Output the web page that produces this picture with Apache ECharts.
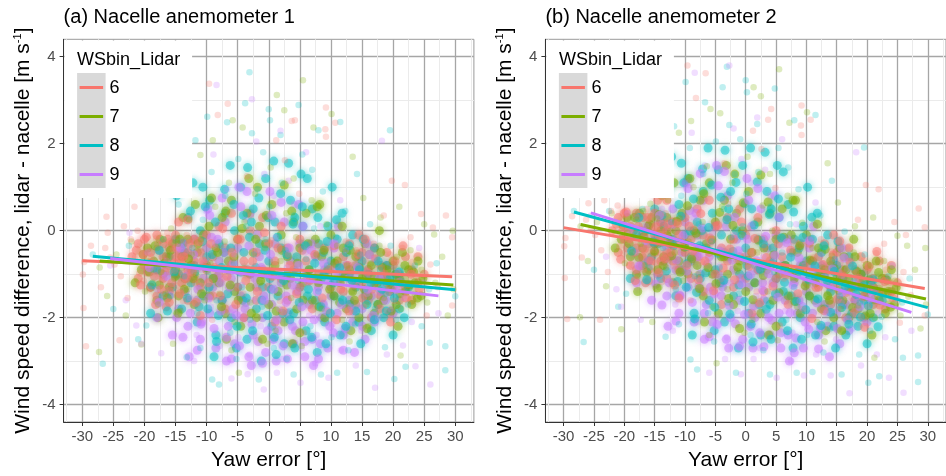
<!DOCTYPE html>
<html>
<head>
<meta charset="utf-8">
<script src="https://cdn.jsdelivr.net/npm/echarts@6.0.0/dist/echarts.min.js"></script>
<style>
html, body { margin: 0; padding: 0; background: #fff; }
#chart { width: 946px; height: 476px; }
</style>
</head>
<body>
<div id="chart"></div>
<script>
// lidar wind speed bins and their colours
const bins = ['6', '7', '8', '9'];
const binColors = ['#F8766D', '#7CAE00', '#00BFC4', '#C77CFF'];

const xTicks = [-30, -25, -20, -15, -10, -5, 0, 5, 10, 15, 20, 25, 30];
const yTicks = [-4, -2, 0, 2, 4];

// yaw error [deg] per bin, with wind speed difference for anemometer 1 (A) and 2 (B)
// spread-out samples
const yaw6 = [-19.8,-18.6,-17.9,-17.2,-16.5,-16.0,-15.4,-14.8,-14.2,-13.5,
  -12.9,-12.1,-11.4,-20.8,-21.5,-19.2,-18.1,-17.6,-16.8,-15.9,
  -15.1,-14.5,-13.8,-13.2,-12.6,-11.8,-16.3,-18.9,-20.1,-14.0,
  -29.7,-29.9,-29.8,-29.4,-28.6,-26.1,-25.9,-26.3,-25.5,-24.0,
  -23.3,-22.2,-21.6,-21.1,-27.0,-23.8,-22.7,-24.8,-9.6,-8.2,
  -6.6,1.2,3.7,4.2,9.2,9.1,9.2,10.7,-8.5,-7.2,
  -5.8,-4.1,-2.9,-1.5,0.4,1.8,3.1,4.9,6.3,7.8,
  9.5,11.2,-9.1,5.6,-3.5,2.6,13.2,14.1,14.9,15.6,
  16.3,16.9,17.5,18.2,18.8,19.5,20.1,20.8,21.5,22.3,
  23.1,23.9,17.0,19.0,21.9,19.8,24.5,26.4,29.5,26.0,
  29.5,28.5,27.2,25.4,15.3,12.4,18.5,22.8];
const diffA6 = [-0.52,-0.85,-0.31,-1.12,-0.68,-0.95,-0.42,-1.28,-0.74,-0.58,
  -1.02,-0.36,-0.88,-0.98,-0.62,-1.35,-0.18,-0.77,-1.48,-0.25,
  -0.92,-0.55,-1.62,-0.10,-0.82,-1.21,-0.05,-0.60,-1.15,-0.98,
  -0.72,-1.01,-1.78,-2.66,-0.35,0.32,-0.05,-0.40,-0.62,-2.52,
  0.10,-0.20,0.55,0.00,-1.30,-1.05,-1.55,-0.78,3.38,2.66,
  2.92,2.08,2.52,2.54,2.83,2.33,2.16,2.48,-0.40,-1.10,
  -0.65,-1.45,0.35,-0.90,-0.22,-1.62,-0.55,0.85,-1.20,-0.35,
  -1.85,-0.70,-2.05,-2.35,1.25,1.62,-0.95,-0.45,-1.30,-0.70,
  -1.05,-0.30,-1.48,-0.85,-1.15,-0.55,-1.62,-0.98,-0.40,-1.25,
  -0.72,-1.05,-0.62,-1.85,1.05,1.15,0.38,0.07,-0.15,-0.78,
  -1.72,0.35,-1.30,-1.95,-1.75,-0.25,0.35,-0.15];
const diffB6 = [0.02,-0.27,0.30,-0.61,-0.12,-0.48,0.02,-0.74,-0.30,-0.02,
  -0.60,0.14,-0.49,-0.36,-0.08,-0.80,0.34,-0.28,-0.90,0.27,
  -0.45,-0.01,-1.18,0.40,-0.33,-0.82,0.50,-0.02,-0.52,-0.52,
  -0.17,-0.36,-1.09,-2.03,0.33,0.95,0.63,0.25,0.02,-2.05,
  0.70,0.45,0.95,0.58,-0.62,-0.45,-0.95,-0.10,3.80,3.05,
  3.62,2.30,2.55,2.80,2.88,2.42,2.20,2.55,0.05,-0.72,
  -0.30,-1.12,0.62,-0.68,0.05,-1.40,-0.38,0.98,-1.10,-0.25,
  -1.80,-0.62,-1.60,-2.18,1.55,1.88,-0.90,-0.48,-1.33,-0.74,
  -1.12,-0.40,-1.55,-0.95,-1.28,-0.68,-1.75,-1.10,-0.52,-1.40,
  -0.90,-1.20,-0.70,-1.98,0.95,1.05,0.20,-0.10,0.08,-0.95,
  -1.95,0.51,-1.48,-2.12,-1.80,-0.20,0.25,-0.30];

const yaw7 = [5.5,1.3,2.5,10.1,-5.8,-4.2,7.2,-9.0,-11.0,13.5,
  29.6,-27.3,-20.5,-15.4,-4.8,21.2,26.6,-27.2,-26.0,-24.5,
  -23.0,-22.1,-19.5,-18.7,-18.0,-17.3,-16.6,-16.0,-15.2,-14.6,
  -13.9,-13.1,-12.4,-11.7,-10.9,-10.3,-17.8,-15.7,-14.2,-12.8,
  -19.9,-16.9,-9.4,-8.6,-7.9,-7.1,-6.4,-5.5,-4.7,-3.9,
  -3.0,-2.2,-1.4,-0.6,0.3,1.1,1.9,2.8,3.6,4.4,
  5.3,6.1,6.9,7.7,8.5,9.3,10.2,11.0,11.8,-0.2,
  4.0,-6.0,12.6,13.4,14.2,14.9,15.7,16.4,17.1,17.8,
  18.5,19.2,19.9,20.6,21.3,22.0,22.8,23.5,16.0,18.0,
  21.0,24.6,25.5,26.8,27.9,28.8,29.7,25.0,13.0,15.2];
const diffA7 = [3.46,3.12,2.77,2.68,2.54,2.37,2.37,2.08,1.74,1.70,
  0.00,-2.79,-2.62,-2.60,-3.27,-2.87,-0.09,-0.85,-1.50,-0.55,
  -1.95,-0.25,-0.70,-1.20,-0.40,-0.95,-1.45,-0.62,-1.10,-0.30,
  -0.85,-1.35,-0.55,-1.02,-0.20,-1.60,-1.70,0.05,-1.85,0.25,
  -1.40,-0.20,-0.75,0.55,-1.45,-0.25,1.10,-2.10,-0.90,0.20,
  -1.65,0.85,-1.20,-0.40,1.45,-2.30,-0.70,0.40,-1.55,-0.15,
  -2.65,-1.00,0.70,-0.55,-1.80,0.15,-1.25,-0.35,-2.05,-2.60,
  1.20,-2.75,-0.80,-1.40,-0.50,-1.05,-1.70,-0.75,-1.25,-0.35,
  -1.55,-0.95,-1.35,-0.60,-1.80,-1.10,-0.45,-1.45,-2.20,0.30,
  0.55,-0.90,-1.65,-1.20,-0.60,-1.95,-1.35,0.15,-2.55,0.75];
const diffB7 = [3.71,3.30,3.09,2.72,2.80,2.70,2.48,2.52,2.25,1.55,
  -0.40,-1.99,-2.27,-2.10,-3.05,-2.92,-0.35,0.10,-0.70,0.20,
  -1.28,0.40,-0.05,-0.50,0.25,-0.30,-0.80,0.00,-0.52,0.28,
  -0.30,-0.85,0.00,-0.50,0.28,-1.15,-1.05,0.62,-1.30,0.70,
  -0.75,0.45,-0.25,1.00,-1.00,0.20,1.48,-1.75,-0.52,0.55,
  -1.35,1.10,-0.92,-0.10,1.70,-2.05,-0.50,0.58,-1.40,0.00,
  -2.52,-0.90,0.80,-0.48,-1.75,0.18,-1.25,-0.40,-2.10,-2.35,
  1.30,-2.40,-0.85,-1.45,-0.58,-1.15,-1.80,-0.88,-1.40,-0.50,
  -1.72,-1.12,-1.55,-0.80,-2.00,-1.32,-0.70,-1.68,-2.30,0.10,
  0.30,-1.15,-1.95,-1.52,-0.90,-2.25,-1.70,-0.12,-2.55,0.65];

const yaw8 = [-3.1,4.8,-3.8,0.0,0.2,-9.9,-6.7,-2.7,8.0,11.5,
  19.5,-11.8,1.9,14.2,-26.7,-19.7,-13.2,-9.1,-8.0,-1.6,
  4.0,8.4,11.0,15.8,20.2,22.0,28.4,18.7,25.9,28.4,
  30.0,-28.3,-25.0,-22.5,-21.0,-18.5,-17.0,-15.8,-14.5,-13.6,
  -12.3,-11.5,-10.6,-9.8,-9.2,-8.4,-7.7,-7.0,-6.2,-5.6,
  -4.9,-4.3,-3.6,-3.0,-2.4,-1.8,-1.1,-0.5,0.1,0.8,
  1.4,2.1,2.7,3.4,4.1,4.7,5.4,6.0,6.7,7.3,
  8.0,8.7,9.4,10.1,10.8,11.6,12.3,13.1,13.9,14.7,
  15.5,16.3,17.1,17.9,18.8,19.6,20.5,21.4,22.4,23.5,
  24.6,25.8,27.0,-5.2,2.9,-11.0,12.8,-16.5,7.0,-0.9];
const diffA8 = [3.64,2.89,2.93,2.79,2.54,2.62,2.49,2.24,2.31,2.50,
  2.31,2.08,2.20,1.30,-3.06,-2.18,-2.91,-3.42,-3.54,-3.42,
  -3.31,-3.31,-3.27,-3.25,-3.41,-3.13,-3.21,-2.68,-2.58,-2.66,
  -1.51,-0.55,-1.80,-0.35,-2.50,-0.90,-0.20,-1.50,0.60,-1.05,
  -0.40,-1.90,0.25,-0.95,1.35,-1.60,-0.35,0.80,-2.35,-0.75,
  1.65,-1.30,0.10,-2.05,-0.55,0.95,-1.75,-0.20,0.55,-2.70,
  -1.05,1.10,-0.45,-1.85,0.35,-1.15,1.75,-0.65,-2.20,0.05,
  -1.40,0.90,-0.80,-2.45,-0.15,-1.55,0.45,-1.00,-2.15,-0.55,
  -1.35,0.15,-1.80,-0.90,-1.45,-0.35,-2.05,-1.15,-1.70,-0.80,
  -2.20,-1.35,-0.75,-2.95,-2.95,-2.70,-2.75,0.90,1.40,1.80];
const diffB8 = [3.77,3.27,3.30,3.46,3.18,3.42,2.95,2.43,2.54,2.66,
  1.91,2.40,2.45,1.15,-2.56,-1.45,-2.44,-2.96,-3.19,-3.27,
  -3.31,-3.27,-3.25,-3.31,-3.50,-3.35,-3.48,-2.85,-2.92,-2.87,
  -1.93,0.45,-0.90,0.45,-1.75,-0.15,0.50,-0.85,1.25,-0.40,
  0.20,-1.35,0.80,-0.40,1.90,-1.05,0.15,1.30,-1.90,-0.25,
  2.05,-0.85,0.50,-1.65,-0.15,1.30,-1.45,0.10,0.85,-2.40,
  -0.80,1.35,-0.20,-1.60,0.55,-0.95,1.90,-0.50,-2.05,0.15,
  -1.30,0.95,-0.78,-2.40,-0.18,-1.58,0.35,-1.05,-2.25,-0.65,
  -1.50,-0.02,-1.95,-1.10,-1.65,-0.55,-2.30,-1.38,-1.98,-1.05,
  -2.50,-1.65,-1.10,-2.55,-2.75,-2.15,-2.80,1.55,1.45,2.10];

const yaw9 = [-8.4,-2.7,18.2,-21.3,-17.3,-0.8,1.3,5.1,9.6,17.1,
  23.6,26.0,21.6,6.0,1.9,-6.0,14.0,-25.5,-23.0,-19.5,
  27.3,25.0,-18.0,-16.4,-15.0,-13.8,-12.7,-11.6,-10.8,-10.0,
  -9.3,-8.6,-7.9,-7.3,-6.7,-6.1,-5.5,-4.9,-4.3,-3.7,
  -3.1,-2.5,-1.9,-1.3,-0.7,-0.1,0.5,1.1,1.7,2.3,
  2.9,3.5,4.1,4.7,5.3,5.9,6.5,7.1,7.7,8.3,
  8.9,9.5,10.2,10.9,11.6,12.4,13.2,14.0,14.9,15.8,
  16.7,17.6,18.6,19.6,20.7,21.8,23.0,-14.3,-2.0,3.2,
  11.5,-20.5,-12.0,7.5,-3.4,19.0,24.2,-22.4,0.8,-8.9];
const diffA9 = [3.35,3.02,2.07,-2.18,-2.82,-3.65,-3.27,-3.50,-3.38,-3.61,
  -3.12,-3.54,-2.64,1.80,2.30,-3.40,-3.10,-0.80,-1.60,-0.50,
  -1.90,-1.20,-1.35,-0.70,-2.00,-0.25,-1.55,-2.40,-0.90,0.45,
  -1.75,-0.30,-2.65,-1.10,0.95,-1.90,-0.55,-2.45,-1.25,0.25,
  -2.85,-1.60,-0.45,-2.20,1.30,-1.05,-2.55,-0.15,-1.80,-2.95,
  -0.85,-2.10,0.60,-1.40,-2.70,-0.50,-1.95,-1.05,-2.40,0.10,
  -1.65,-0.70,-2.15,-1.20,-2.75,-0.45,-1.75,-1.05,-2.30,-1.45,
  -0.65,-2.00,-1.25,-1.80,-0.95,-1.55,-2.10,1.10,2.05,1.15,
  0.70,-2.60,-3.00,-3.05,-3.30,-2.85,-0.40,-0.05,0.80,1.75];
const diffB9 = [3.63,3.80,1.80,-1.35,-2.05,-3.30,-2.95,-3.38,-3.33,-3.74,
  -3.38,-3.73,-2.85,2.10,2.60,-3.27,-3.33,0.35,-0.60,0.40,
  -2.30,-1.60,-0.50,0.10,-1.20,0.50,-0.85,-1.70,-0.25,1.10,
  -1.15,0.30,-2.10,-0.55,1.50,-1.40,-0.05,-2.00,-0.80,0.70,
  -2.45,-1.20,-0.10,-1.85,1.65,-0.70,-2.25,0.15,-1.50,-2.70,
  -0.60,-1.90,0.80,-1.25,-2.55,-0.35,-1.85,-0.95,-2.35,0.15,
  -1.62,-0.70,-2.20,-1.25,-2.85,-0.55,-1.90,-1.20,-2.50,-1.65,
  -0.88,-2.25,-1.52,-2.10,-1.25,-1.90,-2.45,1.85,2.35,1.40,
  0.65,-1.75,-2.30,-3.00,-2.95,-3.10,-0.80,0.85,1.10,2.25];

// samples from the dense middle of the cloud
const yawCore6 = [-22,-21,-21,-20,-20,-19,-19,-18,-18,-18,
  -17,-17,-17,-16,-16,-16,-15,-15,-15,-14,
  -14,-14,-13,-13,-13,-12,-12,-12,-11,-11,
  -10,-10,-19.5,-16.5,-14.5,12,12,13,13,14,
  14,15,15,16,16,17,17,18,18,19,
  19,20,20,21,21,22,22,23,23,24,
  24,25,16.5,19.5,14.5,-9,-9,-8,-8,-7,
  -7,-6,-6,-5,-5,-4,-4,-3,-3,-2,
  -2,-1,-1,0,0,1,1,2,2,3,
  3,4,5,5,6,7,8,9,10,11];
const coreA6 = [-0.6,-0.3,-1.1,-0.8,-0.2,-1.3,-0.5,-0.9,-0.1,-1.5,
  -0.6,-1.1,-0.3,-0.8,-1.4,-0.4,-1.0,-0.6,-0.1,-1.2,
  -0.7,-0.3,-0.9,-1.6,-0.5,-1.1,-0.2,-0.7,-1.3,-0.5,
  -0.9,-0.1,-0.95,-1.75,0.2,-0.6,-1.4,-1.0,-0.3,-1.7,
  -0.8,-1.2,-0.5,-0.9,-1.6,-0.4,-1.2,-0.8,-1.5,-1.1,
  -0.5,-1.3,-0.8,-1.6,-1.0,-0.6,-1.3,-0.9,-1.6,-1.2,
  -0.6,-1.0,-2.0,-1.9,-0.1,-0.6,-1.5,0.1,-1.0,-0.4,
  -1.8,-0.8,0.4,-1.3,-0.2,-0.7,-2.0,-1.0,0.0,-0.5,
  -1.6,-0.9,0.3,-1.3,-0.3,-0.7,-2.1,-1.1,0.1,-0.4,
  -1.6,-0.9,-1.3,-0.2,-0.7,-1.8,-1.0,-0.4,-1.3,-0.8];
const coreB6 = [0.0,0.3,-0.5,-0.2,0.4,-0.8,0.1,-0.4,0.4,-0.9,
  -0.1,-0.6,0.3,-0.3,-0.9,0.1,-0.5,-0.1,0.4,-0.7,
  -0.2,0.2,-0.5,-1.1,0.0,-0.7,0.2,-0.3,-0.9,-0.1,
  -0.5,0.3,-0.4,-1.2,0.7,-0.6,-1.3,-1.0,-0.3,-1.7,
  -0.8,-1.2,-0.5,-0.9,-1.7,-0.4,-1.3,-0.9,-1.6,-1.2,
  -0.6,-1.4,-0.9,-1.7,-1.1,-0.7,-1.4,-1.1,-1.8,-1.4,
  -0.8,-1.2,-2.0,-2.0,-0.1,-0.2,-1.1,0.5,-0.6,-0.1,
  -1.4,-0.5,0.7,-1.0,0.1,-0.4,-1.7,-0.7,0.3,-0.2,
  -1.3,-0.6,0.5,-1.1,-0.1,-0.5,-1.9,-0.9,0.3,-0.2,
  -1.4,-0.7,-1.1,0.0,-0.6,-1.7,-0.9,-0.3,-1.2,-0.7];
const yawMid6 = [-21.3,-20.6,-19.7,-19.1,-18.4,-17.7,-17.3,-16.7,-16.2,-15.6,
  -15.2,-14.8,-14.3,-13.7,-13.3,-12.8,-12.3,-11.7,-11.2,-10.6,
  -9.7,-9.3,-8.7,-7.8,-7.4,-6.7,-5.9,-5.3,-4.6,-3.7,
  -2.6,-1.8,-0.7,0.6,1.5,2.3,3.4,4.5,5.4,6.6,
  7.4,8.6,9.8,10.5,11.6,12.7,13.6,14.4,15.1,15.8,
  16.6,17.2,17.9,18.6,19.3,20.3,21.2,22.1,22.9,24.2,
  -18.2,-13.0,15.5,19.6,-16.0,12.9,-20.2,21.6,-11.0,10.9];
const midA6 = [-0.45,-1.25,-0.15,-0.75,-1.05,-0.45,-1.35,-0.95,-0.20,-1.20,
  -0.75,-0.40,-1.45,-0.60,-1.10,-0.30,-0.95,-1.65,-0.25,-0.70,
  -1.20,-0.30,-0.85,-1.50,0.05,-1.05,-0.50,-1.70,-0.20,-1.15,
  -0.70,-1.40,-0.05,-1.05,-0.40,-1.85,-0.80,-1.45,-0.45,-1.15,
  -0.55,-1.55,-0.90,-0.35,-1.35,-0.80,-1.25,-0.55,-1.55,-0.95,
  -1.35,-0.65,-1.80,-1.00,-1.40,-0.70,-1.20,-1.55,-1.00,-1.35,
  -1.70,0.25,-0.20,-2.10,-1.65,-1.85,-0.55,-0.35,-1.95,-2.05];
const midB6 = [0.15,-0.66,0.43,-0.18,-0.50,0.10,-0.80,-0.42,0.31,-0.70,
  -0.27,0.09,-0.97,-0.14,-0.65,0.14,-0.50,-1.25,0.17,-0.28,
  -0.80,0.10,-0.47,-1.13,0.39,-0.70,-0.17,-1.38,0.12,-0.86,
  -0.42,-1.13,0.20,-0.82,-0.18,-1.66,-0.62,-1.28,-0.30,-1.02,
  -0.45,-1.45,-0.83,-0.29,-1.31,-0.78,-1.24,-0.56,-1.58,-1.00,
  -1.42,-0.73,-1.89,-1.10,-1.52,-0.83,-1.34,-1.71,-1.17,-1.54,
  -1.15,0.70,-0.24,-2.22,-1.15,-1.84,0.03,-0.48,-1.55,-2.02];

const yawCore7 = [-20.5,-19.5,-19,-18.5,-18,-17.5,-17,-16.5,-16,-15.5,
  -15,-14.5,-14,-13.5,-13,-12.5,-12,-11.5,-11,-10.5,
  -10,-9.5,-21.5,-17.8,-13.8,-8.5,-8,-7.5,-7,-6.5,
  -6,-5.5,-5,-4.5,-4,-3.5,-3,-2.5,-2,-1.5,
  -1,-0.5,0,0.5,1,1.5,2,2.5,3,3.5,
  4,4.5,5,5.5,6,6.5,7,7.5,8,8.5,
  9,9.5,10,10.5,11,11.5,12,12.5,13,13.5,
  14,14.5,15,15.5,16,16.5,17,17.5,18,18.5,
  19,19.5,20,20.5,21,21.5,22,22.5,23,23.5,
  24,24.5,13.2,17.8,-6.8,3.8,-11.8,20.8,-1.8,8.2];
const coreA7 = [-0.9,-0.4,-1.3,-0.7,-1.6,-0.2,-1.0,-0.6,-1.3,-0.3,
  -0.9,-1.5,-0.6,-1.1,-0.2,-0.8,-1.7,-0.5,-1.2,-0.1,
  -0.8,-1.5,-1.2,-2.0,0.3,-0.4,-1.2,0.3,-1.9,-0.7,
  0.7,-1.4,-0.2,-2.2,-0.9,0.4,-1.3,-0.5,-2.0,0.1,
  -1.0,-0.3,-1.7,0.6,-0.8,-1.4,-0.1,-2.1,-0.6,-1.1,
  0.2,-1.8,-0.4,-1.2,0.4,-0.9,-1.6,-0.2,-1.2,-0.6,
  -2.0,-0.9,-0.1,-1.5,-0.7,-1.2,-0.4,-1.8,-0.9,-1.4,
  -0.6,-2.0,-1.1,-0.3,-1.5,-0.8,-1.9,-1.2,-0.5,-1.6,
  -0.9,-1.3,-0.7,-1.7,-1.1,-0.5,-1.4,-0.9,-1.7,-1.2,
  -0.7,-1.5,-2.3,0.0,-2.5,-2.6,0.6,-2.2,1.0,0.6];
const coreB7 = [-0.2,0.3,-0.6,0.0,-1.0,0.4,-0.4,0.0,-0.7,0.3,
  -0.3,-0.9,0.0,-0.6,0.3,-0.3,-1.2,0.0,-0.7,0.4,
  -0.3,-1.0,-0.4,-1.4,0.8,0.0,-0.8,0.7,-1.5,-0.3,
  1.1,-1.0,0.2,-1.9,-0.6,0.7,-1.0,-0.2,-1.7,0.4,
  -0.7,0.0,-1.4,0.9,-0.5,-1.2,0.2,-1.9,-0.4,-0.9,
  0.4,-1.6,-0.2,-1.0,0.5,-0.8,-1.5,-0.1,-1.1,-0.5,
  -1.9,-0.8,-0.1,-1.5,-0.7,-1.2,-0.4,-1.8,-0.9,-1.5,
  -0.7,-2.0,-1.1,-0.4,-1.6,-0.9,-2.0,-1.3,-0.6,-1.8,
  -1.0,-1.5,-0.8,-1.9,-1.3,-0.7,-1.6,-1.1,-1.9,-1.4,
  -0.9,-1.7,-2.3,-0.2,-2.1,-2.4,1.1,-2.4,1.3,0.7];
const yawMid7 = [-19.2,-18.3,-17.6,-16.8,-16.3,-15.8,-15.0,-14.3,-13.6,-12.9,
  -12.2,-11.4,-10.8,-10.1,-9.6,-8.9,-8.2,-7.6,-6.9,-6.2,
  -5.6,-4.9,-4.3,-3.6,-2.8,-2.1,-1.3,-0.4,0.4,1.2,
  2.1,2.9,3.7,4.6,5.5,6.3,7.2,8.1,8.9,9.8,
  10.6,11.4,12.3,13.1,13.8,14.6,15.4,16.2,17.0,17.6,
  18.3,19.0,19.7,20.4,21.1,21.9,22.6,23.3,23.9,24.8,
  -20.2,-14.6,-9.2,-3.2,2.5,7.8,11.8,15.8,5.0,-1.0];
const midA7 = [-0.95,-0.35,-1.25,-0.75,-1.55,-0.45,-1.05,-0.20,-1.35,-0.65,
  -1.10,-0.30,-1.45,-0.85,0.10,-1.10,-0.50,-1.75,0.45,-1.25,
  -0.60,-1.60,0.05,-0.95,-1.90,-0.20,-1.15,0.35,-0.95,-1.85,
  -0.45,-1.25,0.45,-0.75,-1.60,-0.30,-1.10,-1.75,-0.45,-1.35,
  -0.75,-1.65,-1.05,-0.45,-1.60,-0.85,-1.35,-0.55,-1.05,-1.70,
  -0.85,-1.20,-1.85,-1.00,-1.45,-0.80,-1.25,-0.95,-1.55,-1.10,
  -0.55,-1.90,0.75,1.20,1.05,0.55,0.10,-2.25,-2.35,-2.50];
const midB7 = [-0.30,0.30,-0.62,-0.14,-0.95,0.15,-0.47,0.37,-0.80,-0.12,
  -0.58,0.21,-0.95,-0.38,0.57,-0.65,-0.06,-1.33,0.85,-0.85,
  -0.21,-1.22,0.42,-0.60,-1.56,0.12,-0.84,0.64,-0.68,-1.59,
  -0.22,-1.03,0.66,-0.56,-1.43,-0.15,-0.96,-1.63,-0.35,-1.27,
  -0.68,-1.60,-1.02,-0.43,-1.60,-0.87,-1.38,-0.60,-1.12,-1.77,
  -0.94,-1.30,-1.96,-1.13,-1.59,-0.96,-1.42,-1.14,-1.76,-1.31,
  0.12,-1.32,1.20,1.50,1.28,0.70,0.15,-2.30,-2.20,-2.25];

const yawCore8 = [-16,-15.5,-15,-14.5,-14,-13.5,-13,-12.5,-12,-11.5,
  -11,-10.5,-10,-9.5,-9,-8.5,-8,-7.5,-7,-6.5,
  -6,-5.5,-5,-4.5,-4,-3.5,-3,-2.5,-2,-1.5,
  -1,-0.5,0,0.5,1,1.5,2,2.5,3,3.5,
  4,4.5,5,5.5,6,6.5,7,7.5,8,8.5,
  9,9.5,10,10.5,11,11.5,12,12.5,13,13.5,
  14,14.5,15,15.5,16,16.5,17,17.5,18,18.5,
  19,19.5,20,20.5,21,-17,-18,-19,-12.2,-6.2,
  0.8,5.2,10.2,-8.8,-1.2,7.8,14.8,-4.2,-2.8,0.2,
  2.2,4.2,6.2,-9.8,-7.2,-5.2,8.8,11.8,-14.8,22.5];
const coreA8 = [-0.6,-1.3,-0.2,-1.0,-1.8,-0.5,0.3,-1.2,-0.8,-2.1,
  0.0,-1.5,-0.6,0.7,-1.1,-2.4,-0.3,-1.6,0.4,-0.9,
  -2.0,0.0,-1.3,1.0,-0.5,-2.5,-1.0,0.5,-1.8,-0.3,
  -1.3,1.2,-0.7,-2.2,0.2,-1.5,-0.4,-2.6,-1.0,0.7,
  -1.9,-0.6,-1.3,0.1,-2.3,-0.9,0.5,-1.6,-0.3,-1.1,
  -2.1,0.1,-0.7,-1.5,-0.2,-2.4,-1.0,-0.5,-1.7,-0.1,
  -1.3,-2.1,-0.7,-1.5,-1.0,-2.3,-0.4,-1.7,-1.1,-2.0,
  -0.8,-1.4,-2.4,-1.0,-1.8,-1.5,-0.9,-1.9,1.1,1.5,
  1.6,1.3,1.0,-2.9,-3.0,-2.8,-2.6,-1.6,0.2,-1.1,
  -1.9,0.3,-1.5,-1.8,-0.5,-2.7,-0.5,0.4,0.8,-1.3];
const coreB8 = [0.1,-0.6,0.5,-0.3,-1.1,0.1,0.9,-0.6,-0.2,-1.5,
  0.6,-0.9,-0.1,1.2,-0.6,-1.9,0.2,-1.1,0.9,-0.4,
  -1.6,0.4,-0.9,1.4,-0.1,-2.1,-0.6,0.9,-1.5,0.0,
  -1.0,1.5,-0.4,-1.9,0.5,-1.2,-0.2,-2.4,-0.8,0.9,
  -1.7,-0.4,-1.1,0.3,-2.1,-0.8,0.6,-1.5,-0.2,-1.0,
  -2.0,0.1,-0.7,-1.5,-0.2,-2.4,-1.0,-0.5,-1.8,-0.1,
  -1.4,-2.2,-0.8,-1.6,-1.1,-2.4,-0.6,-1.9,-1.3,-2.2,
  -1.0,-1.6,-2.6,-1.2,-2.0,-0.8,-0.1,-1.1,1.7,1.9,
  1.9,1.5,1.0,-2.4,-2.7,-2.7,-2.7,-1.2,0.5,-0.8,
  -1.7,0.5,-1.4,-1.3,0.0,-2.3,-0.4,0.4,1.5,-1.6];
const yawMid8 = [-13.8,-13.1,-12.6,-11.9,-11.2,-10.7,-10.2,-9.6,-9.1,-8.6,
  -8.1,-7.6,-7.1,-6.6,-6.1,-5.6,-5.1,-4.6,-4.1,-3.6,
  -3.1,-2.6,-2.1,-1.6,-1.1,-0.6,-0.1,0.4,0.9,1.4,
  1.9,2.4,2.9,3.4,3.9,4.4,4.9,5.4,5.9,6.4,
  6.9,7.4,7.9,8.4,8.9,9.4,9.9,10.4,10.9,11.4,
  11.9,12.4,12.9,13.4,14.0,14.6,15.2,15.8,16.4,17.0,
  17.6,18.2,18.9,19.5,20.2,21.0,21.8,-15.2,-16.3,-17.6,
  -18.8,-3.4,3.2,-8.4,1.2,9.2,6.2,-10.6,-0.2,4.2];
const midA8 = [-0.30,-1.55,0.45,-0.95,-1.75,-0.25,0.55,-1.30,-0.55,0.20,
  -1.95,-0.85,0.95,-1.45,-0.40,0.60,-2.20,-0.95,0.35,-1.55,
  -0.15,-2.30,-0.85,0.75,-1.60,-0.45,0.30,-1.35,-2.45,-0.15,
  0.85,-1.15,-0.55,-2.05,0.15,-0.95,-1.65,0.55,-0.35,-1.35,
  -2.45,-0.75,0.30,-1.75,-1.00,-0.25,-1.90,-1.20,0.25,-0.85,
  -1.60,-2.20,-0.35,-1.15,-1.85,-0.90,-0.20,-1.70,-1.20,-2.05,
  -0.70,-1.35,-1.85,-1.10,-1.55,-0.95,-2.00,-0.95,-1.85,-0.45,
  -1.25,1.45,1.55,-2.55,-2.85,-2.60,1.20,1.00,-1.95,-2.70];
const midB8 = [0.35,-0.93,1.05,-0.35,-1.17,0.33,1.10,-0.75,-0.01,0.73,
  -1.42,-0.35,1.42,-0.97,0.07,1.05,-1.76,-0.52,0.77,-1.14,
  0.25,-1.92,-0.48,1.11,-1.25,-0.11,0.62,-1.04,-2.15,0.13,
  1.12,-0.89,-0.30,-1.81,0.37,-0.74,-1.45,0.73,-0.17,-1.19,
  -2.30,-0.61,0.43,-1.63,-0.90,-0.16,-1.82,-1.13,0.31,-0.81,
  -1.57,-2.18,-0.35,-1.16,-1.88,-0.94,-0.25,-1.77,-1.28,-2.15,
  -0.81,-1.47,-1.99,-1.26,-1.72,-1.13,-2.21,-0.26,-1.13,0.30,
  -0.47,1.85,1.80,-2.03,-2.56,-2.50,1.35,1.55,-1.63,-2.50];

const yawCore9 = [-15,-14.5,-14,-13.5,-13,-12.5,-12,-11.5,-11,-10.5,
  -10,-9.5,-9,-8.5,-8,-7.5,-7,-6.5,-6,-5.5,
  -5,-4.5,-4,-3.5,-3,-2.5,-2,-1.5,-1,-0.5,
  0,0.5,1,1.5,2,2.5,3,3.5,4,4.5,
  5,5.5,6,6.5,7,7.5,8,8.5,9,9.5,
  10,10.5,11,11.5,12,12.5,13,13.5,14,14.5,
  15,15.5,16,16.5,17,-16,-17,-18,18,19,
  20,-6.8,-2.8,1.2,5.8,-9.8,-4.8,0.2,4.8,-12.8,
  -7.8,-3.8,-0.8,2.8,6.8,9.8,13.8,-1.8,3.8,8.8,
  -10.8,-5.8,-8.2,11.2,15.8,-15.5,21,-3.2,7.2,0.8];
const coreA9 = [-1.0,-1.8,-0.5,-1.4,-2.2,-0.9,-0.2,-1.6,-2.5,-1.1,
  -0.4,-1.9,-1.3,-2.7,-0.7,-1.6,0.2,-2.2,-1.1,-2.6,
  -0.4,-1.5,-2.0,-0.9,0.4,-2.4,-1.3,-0.6,-2.0,-2.8,
  -1.0,-1.7,-0.3,-2.3,-1.2,0.2,-1.9,-0.7,-2.6,-1.4,
  -0.3,-2.1,-1.0,-1.7,-2.5,-0.6,-1.3,-2.0,-0.9,-2.7,
  -1.5,-0.4,-1.9,-1.1,-2.4,-0.8,-1.6,-2.1,-1.2,-0.6,
  -1.8,-2.5,-1.0,-1.5,-2.1,-1.5,-0.8,-2.0,-1.4,-0.8,
  -1.9,-3.0,-3.1,-3.0,-2.9,0.5,1.0,0.9,0.6,-2.9,
  -1.2,-1.8,-1.5,-1.5,-0.3,-2.2,-2.8,-0.1,-2.2,-1.7,
  -2.1,-1.8,-0.2,0.1,-0.3,-2.4,-1.2,-2.9,-3.1,-2.5];
const coreB9 = [-0.2,-1.0,0.2,-0.7,-1.5,-0.2,0.5,-0.9,-1.9,-0.5,
  0.2,-1.3,-0.7,-2.1,-0.1,-1.0,0.7,-1.7,-0.6,-2.1,
  0.1,-1.0,-1.5,-0.5,0.8,-2.0,-0.9,-0.2,-1.6,-2.5,
  -0.6,-1.3,0.1,-2.0,-0.9,0.5,-1.6,-0.4,-2.4,-1.2,
  -0.1,-1.9,-0.8,-1.6,-2.4,-0.5,-1.2,-1.9,-0.8,-2.7,
  -1.4,-0.4,-1.9,-1.1,-2.4,-0.8,-1.7,-2.2,-1.3,-0.7,
  -1.9,-2.6,-1.1,-1.7,-2.3,-0.7,0.0,-1.2,-1.6,-1.0,
  -2.1,-2.5,-2.7,-2.7,-2.7,1.1,1.5,1.2,0.8,-2.2,
  -0.6,-1.3,-1.1,-1.2,-0.2,-2.1,-2.9,0.3,-2.0,-1.6,
  -1.5,-1.3,0.4,0.1,-0.4,-1.6,-1.4,-2.5,-3.0,-2.2];
const yawMid9 = [-13.2,-12.6,-12.1,-11.4,-10.9,-10.3,-9.7,-9.2,-8.8,-8.3,
  -7.7,-7.2,-6.8,-6.3,-5.7,-5.2,-4.7,-4.2,-3.7,-3.2,
  -2.7,-2.2,-1.7,-1.2,-0.7,-0.2,0.3,0.8,1.3,1.8,
  2.3,2.8,3.3,3.8,4.3,4.8,5.3,5.8,6.3,6.8,
  7.3,7.8,8.3,8.8,9.3,9.8,10.4,11.0,11.7,12.3,
  12.9,13.6,14.3,15.1,15.9,16.8,17.8,18.8,-14.2,-14.8,
  -16.5,-17.6,-19.2,-9.5,-4.5,0.5,5.5,10.5,-6.0,-1.0,
  3.0,8.0,12.0,-11.5,-3.5,2.0,16.2,-7.5,20.5,-13.8];
const midA9 = [-1.05,-1.90,-0.55,-1.35,-2.15,-0.75,-1.55,-0.15,-2.25,-1.05,
  -1.85,-0.50,-2.45,-1.30,-0.75,-1.95,-2.65,-0.95,-1.65,-0.35,
  -2.15,-1.10,-2.55,-0.85,-1.60,-2.30,-0.55,-1.35,-2.05,-1.00,
  -2.65,-1.65,-0.40,-1.25,-2.30,-0.80,-1.75,-2.55,-1.15,-0.45,
  -2.05,-1.40,-2.60,-0.75,-1.85,-1.15,-2.35,-0.95,-1.70,-2.25,
  -1.10,-1.85,-0.85,-2.20,-1.35,-1.95,-1.10,-1.60,-0.40,-2.00,
  -1.05,-1.65,-0.85,0.35,0.55,0.35,0.10,-0.30,-2.95,-3.05,
  -2.95,-2.95,-2.75,-2.75,0.90,0.65,-0.55,0.75,-1.35,-2.45];
const midB9 = [-0.33,-1.20,0.14,-0.68,-1.49,-0.11,-0.93,0.46,-1.65,-0.46,
  -1.28,0.06,-1.90,-0.77,-0.23,-1.45,-2.16,-0.48,-1.19,0.10,
  -1.72,-0.68,-2.14,-0.46,-1.22,-1.93,-0.20,-1.01,-1.73,-0.69,
  -2.35,-1.37,-0.13,-0.99,-2.06,-0.57,-1.53,-2.35,-0.96,-0.28,
  -1.89,-1.25,-2.47,-0.63,-1.74,-1.06,-2.27,-0.89,-1.66,-2.23,
  -1.09,-1.86,-0.88,-2.25,-1.42,-2.05,-1.23,-1.75,0.35,-1.23,
  -0.23,-0.81,0.03,0.97,1.03,0.70,0.31,-0.23,-2.44,-2.66,
  -2.67,-2.81,-2.72,-2.08,1.36,0.97,-0.63,1.31,-1.55,-1.71];

// linear fits per bin: yaw range and fitted difference at its ends
const fitX0 = [-30, -27.2, -28.3, -25.5];
const fitX1 = [29.5, 29.7, 30, 27.3];
const fitA0 = [-0.69, -0.70, -0.59, -0.64];
const fitA1 = [-1.06, -1.25, -1.36, -1.50];
const fitB0 = [0.07, 0.14, 0.43, 0.41];
const fitB1 = [-1.33, -1.57, -1.77, -1.88];

const FONT = 'Liberation Sans, Arial, sans-serif';
const MAJOR = '#a6a6a6';
const MINOR = '#ebebeb';
const NONE = 'rgba(0,0,0,0)';

const yawOuter = [yaw6, yaw7, yaw8, yaw9];
const yawDense = [yawCore6.concat(yawMid6), yawCore7.concat(yawMid7),
  yawCore8.concat(yawMid8), yawCore9.concat(yawMid9)];

// plot panels (pixel boxes)
const panels = [
  { left: 63.6, width: 410.3, title: '(a) Nacelle anemometer 1',
    outer: [diffA6, diffA7, diffA8, diffA9],
    dense: [coreA6.concat(midA6), coreA7.concat(midA7), coreA8.concat(midA8), coreA9.concat(midA9)],
    f0: fitA0, f1: fitA1 },
  { left: 545.4, width: 409.2, title: '(b) Nacelle anemometer 2',
    outer: [diffB6, diffB7, diffB8, diffB9],
    dense: [coreB6.concat(midB6), coreB7.concat(midB7), coreB8.concat(midB8), coreB9.concat(midB9)],
    f0: fitB0, f1: fitB1 }
];
const TOP = 39.3, HEIGHT = 383.1;

// colour list that marks one split line out of every n
function cycle(n, idx, color) {
  const arr = [];
  for (let i = 0; i < n; i++) arr.push(i === idx ? color : NONE);
  return arr;
}

// ggplot draws the points in data order, so mix the bins
function mixedPoints(yaws, diffs) {
  const pts = [];
  const maxLen = Math.max(...yaws.map(a => a.length));
  for (let i = 0; i < maxLen; i++) {
    for (let b = 0; b < bins.length; b++) {
      if (i < yaws[b].length && i < diffs[b].length) {
        pts.push({
          value: [yaws[b][i], diffs[b][i]],
          itemStyle: { color: binColors[b], shadowColor: binColors[b] }
        });
      }
    }
  }
  return pts;
}

const grids = [], xAxes = [], yAxes = [], series = [], titles = [], graphics = [];

panels.forEach((p, g) => {
  grids.push({
    left: p.left, top: TOP, width: p.width, height: HEIGHT,
    show: true, borderColor: '#9a9a9a', borderWidth: 1, backgroundColor: '#fff'
  });

  titles.push({
    text: p.title, left: p.left, top: 7, padding: 0,
    textStyle: { fontSize: 20, fontWeight: 'normal', color: '#000', fontFamily: FONT }
  });

  // data axis with labels, then two bare axes that only draw grid lines
  xAxes.push({
    gridIndex: g, type: 'value', min: -33, max: 33,
    name: 'Yaw error [°]', nameLocation: 'middle', nameGap: 28,
    nameTextStyle: { fontSize: 21, color: '#000', fontFamily: FONT },
    axisLine: { show: true, onZero: false, lineStyle: { color: '#333', width: 1 } },
    axisTick: { show: true, customValues: xTicks, length: 4, lineStyle: { color: '#333' } },
    axisLabel: { customValues: xTicks, color: '#4d4d4d', fontSize: 15, margin: 7, fontFamily: FONT },
    splitLine: { show: false }
  });
  xAxes.push({
    gridIndex: g, type: 'value', min: -33, max: 33, interval: 0.5,
    axisLine: { show: false }, axisTick: { show: false }, axisLabel: { show: false },
    splitLine: { show: true, showMinLine: true, showMaxLine: true, lineStyle: { color: cycle(10, 1, MINOR), width: 1 } }
  });
  xAxes.push({
    gridIndex: g, type: 'value', min: -33, max: 33, interval: 0.5,
    axisLine: { show: false }, axisTick: { show: false }, axisLabel: { show: false },
    splitLine: { show: true, showMinLine: true, showMaxLine: true, lineStyle: { color: cycle(10, 6, MAJOR), width: 1.3 } }
  });

  yAxes.push({
    gridIndex: g, type: 'value', min: -4.4, max: 4.4,
    name: '{t|Wind speed difference, lidar - nacelle [m s}{s|-1}{t|]}',
    nameLocation: 'middle', nameGap: 30,
    nameTextStyle: {
      color: '#000', fontFamily: FONT, fontSize: 21,
      rich: {
        t: { fontSize: 21, color: '#000', fontFamily: FONT },
        s: { fontSize: 11, color: '#000', fontFamily: FONT, verticalAlign: 'top' }
      }
    },
    axisLine: { show: true, onZero: false, lineStyle: { color: '#333', width: 1 } },
    axisTick: { show: true, customValues: yTicks, length: 4, lineStyle: { color: '#333' } },
    axisLabel: { customValues: yTicks, color: '#4d4d4d', fontSize: 15, margin: 8, fontFamily: FONT },
    splitLine: { show: false }
  });
  yAxes.push({
    gridIndex: g, type: 'value', min: -4.4, max: 4.4, interval: 0.2,
    axisLine: { show: false }, axisTick: { show: false }, axisLabel: { show: false },
    splitLine: { show: true, showMinLine: true, showMaxLine: true, lineStyle: { color: cycle(10, 7, MINOR), width: 1 } }
  });
  yAxes.push({
    gridIndex: g, type: 'value', min: -4.4, max: 4.4, interval: 0.2,
    axisLine: { show: false }, axisTick: { show: false }, axisLabel: { show: false },
    splitLine: { show: true, showMinLine: true, showMaxLine: true, lineStyle: { color: cycle(10, 2, MAJOR), width: 1.3 } }
  });

  const axisIdx = g * 3;
  // dense middle of the cloud, slightly soft-edged so the overlap reads as one mass
  series.push({
    type: 'scatter', xAxisIndex: axisIdx, yAxisIndex: axisIdx,
    data: mixedPoints(yawDense, p.dense),
    symbolSize: 9, silent: true, z: 2,
    itemStyle: { opacity: 0.5, shadowBlur: 6 }
  });
  series.push({
    type: 'scatter', xAxisIndex: axisIdx, yAxisIndex: axisIdx,
    data: mixedPoints(yawOuter, p.outer),
    symbolSize: 6.5, silent: true, z: 3,
    itemStyle: { opacity: 0.25 }
  });

  bins.forEach((b, k) => {
    series.push({
      type: 'line', xAxisIndex: axisIdx, yAxisIndex: axisIdx,
      data: [[fitX0[k], p.f0[k]], [fitX1[k], p.f1[k]]],
      symbol: 'none', silent: true, z: 5,
      lineStyle: { color: binColors[k], width: 3 }
    });
  });

  // legend box drawn inside the panel, top-left
  const lx = p.left;
  graphics.push({ type: 'rect', z: 100, shape: { x: lx + 1, y: TOP + 1.2, width: 127.5, height: 157.5 }, style: { fill: '#fff' } });
  graphics.push({ type: 'text', z: 101, x: lx + 13.5, y: 60,
    style: { text: 'WSbin_Lidar', fontSize: 18, fontFamily: FONT, fill: '#000', verticalAlign: 'middle' } });
  graphics.push({ type: 'rect', z: 101, shape: { x: lx + 13.5, y: 73, width: 28.5, height: 115 }, style: { fill: '#d9d9d9' } });
  bins.forEach((b, k) => {
    const ky = 87.5 + 29 * k;
    graphics.push({ type: 'line', z: 102, shape: { x1: lx + 16, y1: ky, x2: lx + 39.5, y2: ky },
      style: { stroke: binColors[k], lineWidth: 3 } });
    graphics.push({ type: 'text', z: 102, x: lx + 46, y: ky + 1,
      style: { text: b, fontSize: 18, fontFamily: FONT, fill: '#000', verticalAlign: 'middle' } });
  });
});

const chart = echarts.init(document.getElementById('chart'));
chart.setOption({
  animation: false,
  backgroundColor: '#fff',
  textStyle: { fontFamily: FONT },
  title: titles,
  grid: grids,
  xAxis: xAxes,
  yAxis: yAxes,
  series: series,
  graphic: graphics
});
</script>
</body>
</html>
